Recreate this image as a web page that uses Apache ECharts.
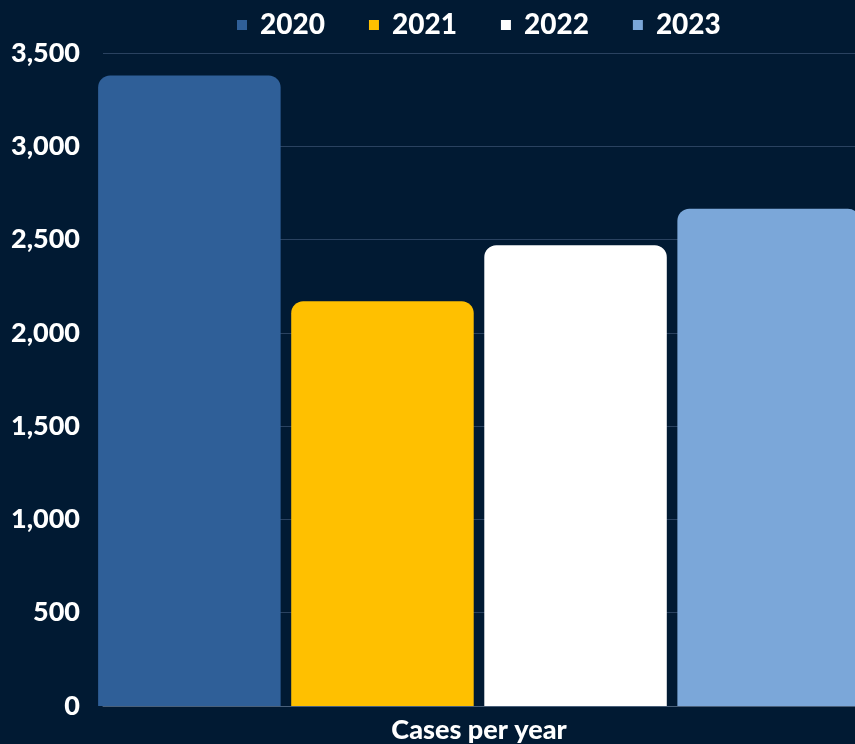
<!DOCTYPE html>
<html><head><meta charset="utf-8">
<script src="https://cdn.jsdelivr.net/npm/echarts@6/dist/echarts.min.js"></script>
<style>html,body{margin:0;padding:0;background:#011a33;}#c{width:855px;height:744px;}</style>
</head><body><div id="c"></div>
<script>
const categories = ['Cases per year'];
const seriesNames = ['2020', '2021', '2022', '2023'];
const values2020 = [3380];
const values2021 = [2170];
const values2022 = [2470];
const values2023 = [2665];
const colors = ['#2f5f98', '#ffc000', '#ffffff', '#7ba7d9'];
const allValues = [values2020, values2021, values2022, values2023];

const chart = echarts.init(document.getElementById('c'));
chart.setOption({
  backgroundColor: '#011a33',
  textStyle: { fontFamily: 'Lato' },
  legend: {
    top: 6, left: 232, itemWidth: 10, itemHeight: 10, itemGap: 44,
    icon: 'rect',
    textStyle: { color: '#ffffff', fontSize: 28, fontWeight: 900, fontFamily: 'Lato', padding: [0, 0, 0, 8] },
    data: seriesNames
  },
  grid: { left: 103, right: 0, top: 53, bottom: 37, containLabel: false },
  xAxis: {
    type: 'category', data: categories,
    axisLine: { lineStyle: { color: '#4a607a', width: 1 } },
    axisTick: { show: false },
    axisLabel: { color: '#ffffff', fontSize: 27, fontWeight: 900, margin: 11 }
  },
  yAxis: {
    type: 'value', min: 0, max: 3500, interval: 500,
    axisLabel: { color: '#ffffff', fontSize: 27, fontWeight: 900, margin: 23,
      formatter: v => v.toLocaleString('en-US') },
    splitLine: { lineStyle: { color: '#2a4260', width: 1 } },
    axisLine: { show: false }, axisTick: { show: false }
  },
  series: seriesNames.map((n, i) => ({
    name: n, type: 'bar', data: allValues[i],
    barWidth: 182.5, barGap: '5.8%', clip: false,
    itemStyle: { color: colors[i], borderRadius: [12, 12, 0, 0] }
  }))
});
</script></body></html>
